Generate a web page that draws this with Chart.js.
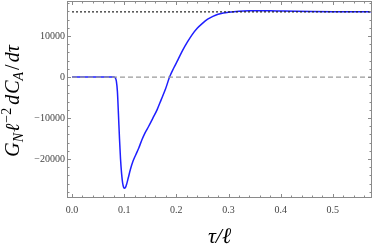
<!DOCTYPE html>
<html>
<head>
<meta charset="utf-8">
<script src="https://cdn.jsdelivr.net/npm/chart.js@4/dist/chart.umd.min.js"></script>
<style>
html,body{margin:0;padding:0;background:#fff;}
canvas{display:block;}
</style>
</head>
<body>
<canvas id="c" width="374" height="247"></canvas>
<script>
// ---- data ----
const tau = [0, 0.02, 0.04, 0.06, 0.07, 0.08, 0.083, 0.085, 0.087, 0.089, 0.091, 0.093, 0.095, 0.097, 0.099, 0.101, 0.103, 0.105, 0.108, 0.112, 0.117, 0.122, 0.128, 0.134, 0.14, 0.147, 0.155, 0.163, 0.171, 0.179, 0.187, 0.195, 0.203, 0.212, 0.221, 0.23, 0.24, 0.25, 0.26, 0.27, 0.28, 0.29, 0.3, 0.31, 0.32, 0.34, 0.36, 0.38, 0.4, 0.43, 0.46, 0.5, 0.54, 0.575];
const dCdtau = [0, 0, 0, 0, 0, 0, -200, -1000, -3500, -9000, -15000, -20000, -23500, -25800, -26900, -27100, -26800, -26000, -24500, -22500, -20500, -19000, -17300, -15300, -13600, -12000, -10000, -8000, -5500, -3000, 0, 2200, 4200, 6500, 8500, 10300, 11900, 13100, 14100, 14800, 15300, 15600, 15800, 15950, 16050, 16150, 16180, 16150, 16100, 16030, 15980, 15940, 15920, 15910];
const zeroLevel = 0;
const plateauLevel = 15900;
const refSpan = [0, 0.575];
const xTicks = [0, 0.1, 0.2, 0.3, 0.4, 0.5];
const xMinorTicks = [0.02,0.04,0.06,0.08,0.12,0.14,0.16,0.18,0.22,0.24,0.26,0.28,0.32,0.34,0.36,0.38,0.42,0.44,0.46,0.48,0.52,0.54,0.56];
const yTicks = [-20000, -10000, 0, 10000];
const yMinorTicks = [-28000,-26000,-24000,-22000,-18000,-16000,-14000,-12000,-8000,-6000,-4000,-2000,2000,4000,6000,8000,12000,14000,16000,18000];
const xTitle = "τ/ℓ";

const serif = '"Liberation Serif", "DejaVu Serif", serif';

const framePlugin = {
  id: 'frame',
  afterDatasetsDraw(chart) {
    const {ctx, chartArea: a, scales} = chart;
    const xs = scales.x, ys = scales.y;
    ctx.save();
    ctx.strokeStyle = '#8a8a8a';
    ctx.lineWidth = 1;
    ctx.beginPath();
    const tick = (v, len, isX) => {
      if (isX) {
        const p = Math.round(xs.getPixelForValue(v)) + 0.5;
        ctx.moveTo(p, a.bottom); ctx.lineTo(p, a.bottom - len);
        ctx.moveTo(p, a.top); ctx.lineTo(p, a.top + len);
      } else {
        const p = Math.round(ys.getPixelForValue(v)) + 0.5;
        ctx.moveTo(a.left, p); ctx.lineTo(a.left + len, p);
        ctx.moveTo(a.right, p); ctx.lineTo(a.right - len, p);
      }
    };
    xTicks.forEach(v => tick(v, 4, true));
    xMinorTicks.forEach(v => tick(v, 2.5, true));
    yTicks.forEach(v => tick(v, 4, false));
    yMinorTicks.forEach(v => tick(v, 2.5, false));
    ctx.stroke();
    ctx.strokeRect(a.left + 0.5, a.top + 0.5, a.right - a.left - 1, a.bottom - a.top - 1);
    ctx.restore();
  },
  afterDraw(chart) {
    const {ctx, chartArea: a} = chart;
    ctx.save();
    ctx.fillStyle = '#000';
    // x title
    ctx.font = 'italic 22px ' + serif;
    ctx.textAlign = 'center';
    ctx.textBaseline = 'alphabetic';
    ctx.fillText(xTitle, (a.left + a.right) / 2, 243);
    // y title, rotated, built from pieces
    const F = 20;
    const parts = [
      {t: 'G', s: 1, dy: 0, it: true, gap: 0},
      {t: 'N', s: 0.7, dy: 0.22, it: true, gap: 1},
      {t: 'ℓ', s: 1, dy: 0, it: true, gap: 1},
      {t: '−2', s: 0.7, dy: -0.42, it: false, gap: 3},
      {t: 'd', s: 1, dy: 0, it: true, gap: 1},
      {t: 'C', s: 1, dy: 0, it: true, gap: 0},
      {t: 'A', s: 0.7, dy: 0.22, it: true, gap: 2},
      {t: '/', s: 1, dy: 0, it: false, gap: 2},
      {t: 'd', s: 1, dy: 0, it: true, gap: 0},
      {t: 'τ', s: 1, dy: 0, it: true, gap: 0}
    ];
    let total = 0;
    parts.forEach(p => {
      ctx.font = (p.it ? 'italic ' : '') + (F * p.s) + 'px ' + serif;
      p.w = ctx.measureText(p.t).width;
      total += p.w + p.gap;
    });
    ctx.translate(19, 101);
    ctx.rotate(-Math.PI / 2);
    ctx.textAlign = 'left';
    let x = -total / 2;
    parts.forEach(p => {
      ctx.font = (p.it ? 'italic ' : '') + (F * p.s) + 'px ' + serif;
      ctx.fillText(p.t, x, p.dy * F);
      x += p.w + p.gap;
    });
    ctx.restore();
  }
};

new Chart(document.getElementById('c'), {
  type: 'line',
  data: {
    datasets: [
      {
        data: refSpan.map(x => ({x, y: zeroLevel})),
        borderColor: '#9a9a9a', borderWidth: 1.3, borderDash: [5, 3],
        pointRadius: 0, tension: 0
      },
      {
        data: refSpan.map(x => ({x, y: plateauLevel})),
        borderColor: '#222', borderWidth: 1.2, borderDash: [2, 2],
        pointRadius: 0, tension: 0
      },
      {
        data: tau.map((x, i) => ({x, y: dCdtau[i]})),
        borderColor: '#1f1fff', borderWidth: 1.5,
        pointRadius: 0, cubicInterpolationMode: 'monotone'
      }
    ]
  },
  options: {
    responsive: false,
    animation: false,
    devicePixelRatio: 1,
    layout: {padding: {top: 1, right: 2, left: 0, bottom: 0}},
    plugins: {legend: {display: false}, tooltip: {enabled: false}},
    scales: {
      x: {
        type: 'linear', min: -0.0096, max: 0.575,
        grid: {display: false, drawTicks: false},
        border: {display: false},
        afterBuildTicks: s => { s.ticks = xTicks.map(v => ({value: v})); },
        afterFit: s => { s.height = 49; s.paddingLeft = 0; s.paddingRight = 0; },
        ticks: {
          font: {family: serif, size: 10}, color: '#444', padding: 6,
          maxRotation: 0, autoSkip: false,
          callback: v => v.toFixed(1)
        }
      },
      y: {
        type: 'linear', min: -29500, max: 18550,
        grid: {display: false, drawTicks: false},
        border: {display: false},
        afterBuildTicks: s => { s.ticks = yTicks.map(v => ({value: v})); },
        afterFit: s => { s.width = 67; s.paddingTop = 0; s.paddingBottom = 0; },
        ticks: {
          font: {family: serif, size: 10}, color: '#444', padding: 2,
          autoSkip: false,
          callback: v => (v < 0 ? '−' + Math.abs(v) : String(v))
        }
      }
    }
  },
  plugins: [framePlugin]
});
</script>
</body>
</html>
